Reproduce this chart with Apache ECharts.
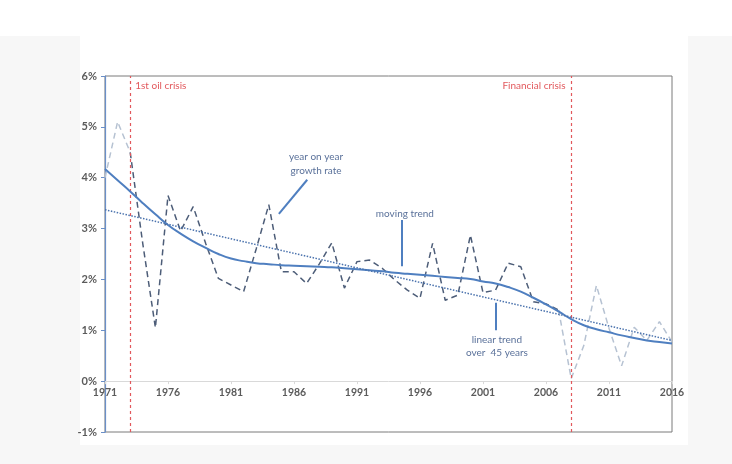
<!DOCTYPE html>
<html lang="en">
<head>
    <meta charset="UTF-8">
    <title>Growth rate 1971-2016</title>
    <script src="https://cdn.jsdelivr.net/npm/echarts@6/dist/echarts.min.js"></script>
    <style>
        html, body { margin: 0; padding: 0; background: #f7f7f7; }
        #main { width: 732px; height: 464px; }
    </style>
</head>
<body>
<div id="main"></div>
<script type="text/javascript">
    // data
    var years = [];
    for (var y = 1971; y <= 2016; y++) years.push(y);

    // year on year growth rate, %
    var growth = [4.0, 5.1, 4.5, 2.7, 1.05, 3.65, 2.95, 3.43, 2.7, 2.02,
        1.89, 1.76, 2.6, 3.47, 2.15, 2.15, 1.92, 2.3, 2.72, 1.83,
        2.35, 2.38, 2.22, 1.99, 1.79, 1.63, 2.71, 1.59, 1.69, 2.87,
        1.74, 1.79, 2.32, 2.25, 1.56, 1.52, 1.40, 0.05, 0.7, 1.88,
        1.04, 0.3, 1.06, 0.8, 1.17, 0.77];

    // moving trend, %
    var moving = [4.17, 3.95, 3.73, 3.50, 3.28, 3.07, 2.90, 2.75, 2.62, 2.50,
        2.41, 2.36, 2.32, 2.30, 2.28, 2.27, 2.26, 2.25, 2.24, 2.22,
        2.20, 2.18, 2.16, 2.13, 2.11, 2.09, 2.07, 2.05, 2.03, 2.01,
        1.96, 1.92, 1.85, 1.76, 1.64, 1.51, 1.37, 1.22, 1.10, 1.02,
        0.96, 0.90, 0.85, 0.80, 0.77, 0.74];

    // linear trend over 45 years (end points)
    var linearYears = [1971, 2016];
    var linearValues = [3.37, 0.80];

    var crisisYears = [1973, 2008];
    var crisisNames = ['1st oil crisis', 'Financial crisis'];

    var yTicks = [-1, 0, 1, 2, 3, 4, 5, 6];

    function pairs(from, to) {
        var out = [];
        for (var i = 0; i < years.length; i++) {
            if (years[i] >= from && years[i] <= to) out.push([years[i], growth[i]]);
        }
        return out;
    }

    var blue = '#4f7fc0';
    var textBlue = '#5a719a';
    var red = '#e2585c';
    var font = 'Lato';

    // x axis sits on the 0% line: one step of the y axis above the grid bottom
    var gridTop = 76, gridBottom = 32;
    var zeroOffset = (464 - gridTop - gridBottom) * (0 - yTicks[0]) / (yTicks[yTicks.length - 1] - yTicks[0]);

    var chart = echarts.init(document.getElementById('main'));

    var option = {
        animation: false,
        backgroundColor: '#f7f7f7',
        grid: {
            left: 105, right: 60, top: gridTop, bottom: gridBottom,
            show: true, borderColor: '#7a7a7a', borderWidth: 1, backgroundColor: '#fff'
        },
        xAxis: {
            type: 'value', min: 1971, max: 2016, interval: 5,
            position: 'bottom', offset: -zeroOffset,
            axisLine: { onZero: false, lineStyle: { color: '#d9d9d9', width: 1 } },
            axisTick: { show: true, length: 3, lineStyle: { color: '#d9d9d9' } },
            axisLabel: { color: '#5b5b5b', fontFamily: font, fontWeight: 'bold', fontSize: 10.5, margin: 6,
                formatter: function (v) { return String(v); } },
            splitLine: { show: false }
        },
        yAxis: {
            type: 'value', min: yTicks[0], max: yTicks[yTicks.length - 1], interval: 1,
            axisLine: { show: true, lineStyle: { color: '#6a8fc8', width: 1.2 } },
            axisTick: { show: true, length: 4, lineStyle: { color: '#6a8fc8' } },
            axisLabel: { color: '#5b5b5b', fontFamily: font, fontWeight: 'bold', fontSize: 11, margin: 8,
                formatter: '{value}%' },
            splitLine: { show: false }
        },
        series: [
            {
                name: 'growth light start', type: 'line', data: pairs(1971, 1973),
                symbol: 'none', z: 3,
                lineStyle: { color: '#b6c2d2', width: 1.5, type: [6, 4] }
            },
            {
                name: 'growth light end', type: 'line', data: pairs(2007, 2016),
                symbol: 'none', z: 3,
                lineStyle: { color: '#b6c2d2', width: 1.5, type: [6, 4] }
            },
            {
                name: 'year on year growth rate', type: 'line', data: pairs(1973, 2007),
                symbol: 'none', z: 4,
                lineStyle: { color: '#4d5d78', width: 1.5, type: [6, 4] }
            },
            {
                name: 'moving trend', type: 'line', smooth: true,
                data: years.map(function (yr, i) { return [yr, moving[i]]; }),
                symbol: 'none', z: 5,
                lineStyle: { color: blue, width: 2 }
            },
            {
                name: 'linear trend', type: 'line',
                data: linearYears.map(function (yr, i) { return [yr, linearValues[i]]; }),
                symbol: 'none', z: 5,
                lineStyle: { color: '#4a72ad', width: 1.5, type: 'dotted' },
                markLine: {
                    silent: true, symbol: 'none', label: { show: false },
                    lineStyle: { color: blue, width: 2, type: 'solid' },
                    data: [
                        [{ coord: [1984.8, 3.29] }, { coord: [1987.05, 3.96] }],
                        [{ coord: [1994.57, 3.17] }, { coord: [1994.57, 2.26] }],
                        [{ coord: [2002.03, 1.54] }, { coord: [2002.03, 1.0] }]
                    ]
                }
            },
            {
                name: 'crisis', type: 'line', data: [],
                markLine: {
                    silent: true, symbol: 'none', label: { show: false },
                    lineStyle: { color: red, width: 1.2, type: [3, 3] },
                    data: crisisYears.map(function (yr) { return { xAxis: yr }; })
                }
            }
        ]
    };
    chart.setOption(option);

    function px(x, y) {
        return chart.convertToPixel({ xAxisIndex: 0, yAxisIndex: 0 }, [x, y]);
    }
    function label(x, y, text, align, color, lh) {
        var p = px(x, y);
        return {
            type: 'text', x: p[0], y: p[1], z: 10,
            style: {
                text: text, fill: color, font: '10px ' + font,
                align: align, verticalAlign: 'middle', lineHeight: lh || 14
            }
        };
    }

    chart.setOption({
        graphic: [
            { type: 'rect', z: -20, silent: true, shape: { x: 0, y: 0, width: 732, height: 36 }, style: { fill: '#fff' } },
            { type: 'rect', z: -20, silent: true, shape: { x: 80, y: 36, width: 608, height: 409 }, style: { fill: '#fff' } },
            label(crisisYears[0] + 0.4, 5.81, crisisNames[0], 'left', red),
            label(crisisYears[1] - 0.45, 5.81, crisisNames[1], 'right', red),
            label(1987.75, 4.27, 'year on year\ngrowth rate', 'center', textBlue, 14),
            label(1994.8, 3.30, 'moving trend', 'center', textBlue),
            label(2002.1, 0.68, 'linear trend\nover  45 years', 'center', textBlue, 13)
        ]
    });
</script>
</body>
</html>
